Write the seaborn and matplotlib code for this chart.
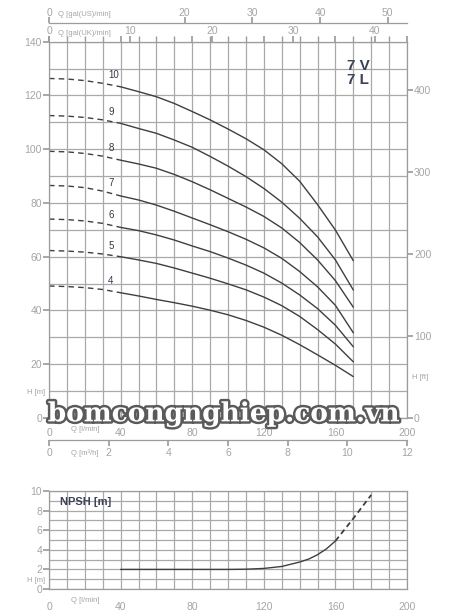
import numpy as np
import pandas as pd
import matplotlib
matplotlib.use('Agg')
import matplotlib.pyplot as plt
import matplotlib.patheffects as pe
import seaborn as sns

# flow points in l/min (dashed part up to 40)
Q_POINTS = [0, 10, 20, 30, 40, 50, 60, 70, 80, 90, 100, 110, 120, 130, 140, 150, 160, 170]
DASH_END = 40

# head in m per number of stages
H10 = [126.3, 126.1, 125.5, 124.5, 123.2, 121.4, 119.5, 117.0, 114.0, 110.9, 107.5, 103.9, 99.8, 94.6, 88.1, 79.4, 69.9, 58.5]
H9 = [112.5, 112.3, 111.8, 110.9, 109.6, 107.7, 105.9, 103.4, 100.7, 97.3, 93.7, 89.8, 85.4, 80.3, 74.3, 67.4, 58.8, 47.6]
H8 = [99.2, 99.0, 98.4, 97.4, 95.9, 94.5, 92.9, 90.6, 87.9, 84.9, 81.7, 78.5, 75.0, 70.7, 65.3, 58.8, 51.1, 41.2]
H7 = [86.5, 86.3, 85.7, 84.4, 82.6, 81.1, 79.2, 76.9, 74.4, 71.9, 69.3, 66.5, 63.3, 59.4, 54.5, 48.8, 41.9, 31.7]
H6 = [74.0, 73.8, 73.3, 72.4, 70.9, 69.7, 68.1, 66.2, 64.0, 61.9, 59.5, 56.9, 53.9, 50.2, 45.8, 40.7, 34.5, 26.5]
H5 = [62.3, 62.1, 61.7, 61.0, 60.0, 58.8, 57.5, 55.8, 53.9, 52.0, 49.9, 47.7, 45.0, 41.8, 37.8, 32.9, 27.5, 20.9]
H4 = [49.1, 48.9, 48.5, 47.8, 46.6, 45.4, 44.1, 42.9, 41.6, 40.1, 38.4, 36.3, 33.8, 30.8, 27.3, 23.5, 19.6, 15.4]
STAGES = ['10', '9', '8', '7', '6', '5', '4']
HEADS = [H10, H9, H8, H7, H6, H5, H4]

# NPSH curve
NPSH_Q = [40, 50, 60, 70, 80, 90, 100, 110, 120, 130, 140, 145, 150, 155, 160]
NPSH_H = [2.0, 2.0, 2.0, 2.0, 2.0, 2.0, 2.0, 2.02, 2.1, 2.3, 2.75, 3.05, 3.5, 4.1, 4.9]
NPSH_Q_DASH = [160, 170, 180]
NPSH_H_DASH = [4.9, 7.2, 9.6]

GRID = '#a9a9a9'
SPINE = '#9c9c9c'
TXT = '#a5a5a5'
LINE = '#3f3f3f'

sns.set_theme(style='white')
plt.rcParams['font.family'] = ['Liberation Sans', 'DejaVu Sans']

fig = plt.figure(figsize=(4.5, 6.14), dpi=100)

### Main H-Q chart ###
ax = fig.add_axes([0.1089, 0.3192, 0.7956, 0.613])

rows = []
for st, hs in zip(STAGES, HEADS):
    for q, h in zip(Q_POINTS, hs):
        rows.append({'stage': st, 'Q': q, 'H': h})
df = pd.DataFrame(rows)

for st in STAGES:
    d = df[df['stage'] == st]
    sns.lineplot(data=d[d['Q'] <= DASH_END], x='Q', y='H', ax=ax, color=LINE,
                 lw=1.0, linestyle=(0, (4, 3)))
    sns.lineplot(data=d[d['Q'] >= DASH_END], x='Q', y='H', ax=ax, color=LINE, lw=1.0)
    h30 = d.loc[d['Q'] == 30, 'H'].iloc[0]
    ax.annotate(st, xy=(30, h30), xytext=(4, 6), textcoords='offset points',
                fontsize=7, color='#34384a', va='center', ha='left')

ax.set_xlim(0, 200)
ax.set_ylim(0, 140)
ax.set_xlabel('')
ax.set_ylabel('')
ax.set_xticks(range(0, 201, 40))
ax.set_xticks(range(0, 201, 10), minor=True)
ax.set_yticks(range(0, 141, 20))
ax.set_yticks(range(0, 141, 10), minor=True)
ax.grid(True, which='both', color=GRID, lw=0.9)
ax.tick_params(axis='x', which='both', bottom=False, top=True, direction='out',
               length=4, color=SPINE, labelsize=7.5, labelcolor=TXT, pad=3)
ax.tick_params(axis='y', which='major', left=True, right=False, direction='out',
               length=4, color=SPINE, labelsize=7.5, labelcolor=TXT, pad=1)
ax.tick_params(axis='y', which='minor', left=False, right=False)
for s in ax.spines.values():
    s.set_color(SPINE)
    s.set_linewidth(0.9)

ax.text(20, -0.03, 'Q [l/min]', transform=ax.get_xaxis_transform(),
        fontsize=5.5, color=TXT, ha='center', va='center')
ax.text(-0.012, 9.5, 'H [m]', transform=ax.get_yaxis_transform(),
        fontsize=5.5, color=TXT, ha='right', va='center')

# top: gal(UK)/min
uk = ax.secondary_xaxis('top', functions=(lambda q: q / 4.546, lambda g: g * 4.546))
uk.set_xticks([0, 10, 20, 30, 40])
uk.tick_params(direction='out', length=4, color=SPINE, labelsize=7.5, labelcolor=TXT, pad=0)
uk.spines['top'].set_visible(False)
ax.text(20, 1.022, 'Q [gal(UK)/min]', transform=ax.get_xaxis_transform(),
        fontsize=5.5, color=TXT, ha='center', va='center')

# top: gal(US)/min
us = ax.secondary_xaxis(1.0486, functions=(lambda q: q / 3.785, lambda g: g * 3.785))
us.set_xticks([0, 20, 30, 40, 50])
us.tick_params(direction='out', length=4, color=SPINE, labelsize=7.5, labelcolor=TXT, pad=0)
us.spines['top'].set_color(SPINE)
us.spines['top'].set_linewidth(0.9)
ax.text(20, 1.073, 'Q [gal(US)/min]', transform=ax.get_xaxis_transform(),
        fontsize=5.5, color=TXT, ha='center', va='center')

# bottom: m3/h
m3 = ax.secondary_xaxis(-0.0584, functions=(lambda q: q * 0.06, lambda v: v / 0.06))
m3.set_xticks(range(0, 13, 2))
m3.tick_params(direction='out', length=4, color=SPINE, labelsize=7.5, labelcolor=TXT, pad=2)
m3.spines['bottom'].set_color(SPINE)
m3.spines['bottom'].set_linewidth(0.9)
ax.text(20, -0.0925, 'Q [m³/h]', transform=ax.get_xaxis_transform(),
        fontsize=5.5, color=TXT, ha='center', va='center')

# right: ft
ft = ax.secondary_yaxis('right', functions=(lambda h: h * 3.28084, lambda f: f / 3.28084))
ft.set_yticks(range(0, 401, 100))
ft.tick_params(direction='out', length=4, color=SPINE, labelsize=7.5, labelcolor=TXT, pad=1)
ft.spines['right'].set_visible(False)
ax.text(1.015, 15.2, 'H [ft]', transform=ax.get_yaxis_transform(),
        fontsize=5.5, color=TXT, ha='left', va='center')

ax.text(166.5, 131, '7 V', fontsize=11, fontweight='bold', color='#3c4257', va='center')
ax.text(166.5, 125.6, '7 L', fontsize=11, fontweight='bold', color='#3c4257', va='center')

### NPSH chart ###
ax2 = fig.add_axes([0.1089, 0.0407, 0.7956, 0.1596])
sns.lineplot(x=NPSH_Q, y=NPSH_H, ax=ax2, color=LINE, lw=1.0)
sns.lineplot(x=NPSH_Q_DASH, y=NPSH_H_DASH, ax=ax2, color=LINE, lw=1.3, linestyle=(0, (3, 2)))
ax2.set_xlim(0, 200)
ax2.set_ylim(0, 10)
ax2.set_xticks(range(0, 201, 40))
ax2.set_xticks(range(0, 201, 10), minor=True)
ax2.set_yticks(range(0, 11, 2))
ax2.set_yticks(range(0, 11, 1), minor=True)
ax2.grid(True, which='both', color=GRID, lw=0.9)
ax2.tick_params(axis='x', which='both', bottom=False, top=False,
                labelsize=7.5, labelcolor=TXT, pad=3)
ax2.tick_params(axis='y', which='major', left=True, direction='out', length=4,
                color=SPINE, labelsize=7.5, labelcolor=TXT, pad=1)
ax2.tick_params(axis='y', which='minor', left=False)
for s in ax2.spines.values():
    s.set_color(SPINE)
    s.set_linewidth(0.9)
ax2.text(20, -0.12, 'Q [l/min]', transform=ax2.get_xaxis_transform(),
         fontsize=5.5, color=TXT, ha='center', va='center')
ax2.text(-0.012, 0.9, 'H [m]', transform=ax2.get_yaxis_transform(),
         fontsize=5.5, color=TXT, ha='right', va='center')
ax2.text(6, 8.9, 'NPSH [m]', fontsize=8, fontweight='bold', color='#3c4257', va='center')

# watermark
fig.text(0.497, 0.326, 'bomcongnghiep.com.vn', fontsize=19, fontweight='bold',
         family='DejaVu Serif', color='white', ha='center', va='center',
         path_effects=[pe.withStroke(linewidth=3.5, foreground='#5a5a5a')])

fig.savefig('out.png', dpi=100)
